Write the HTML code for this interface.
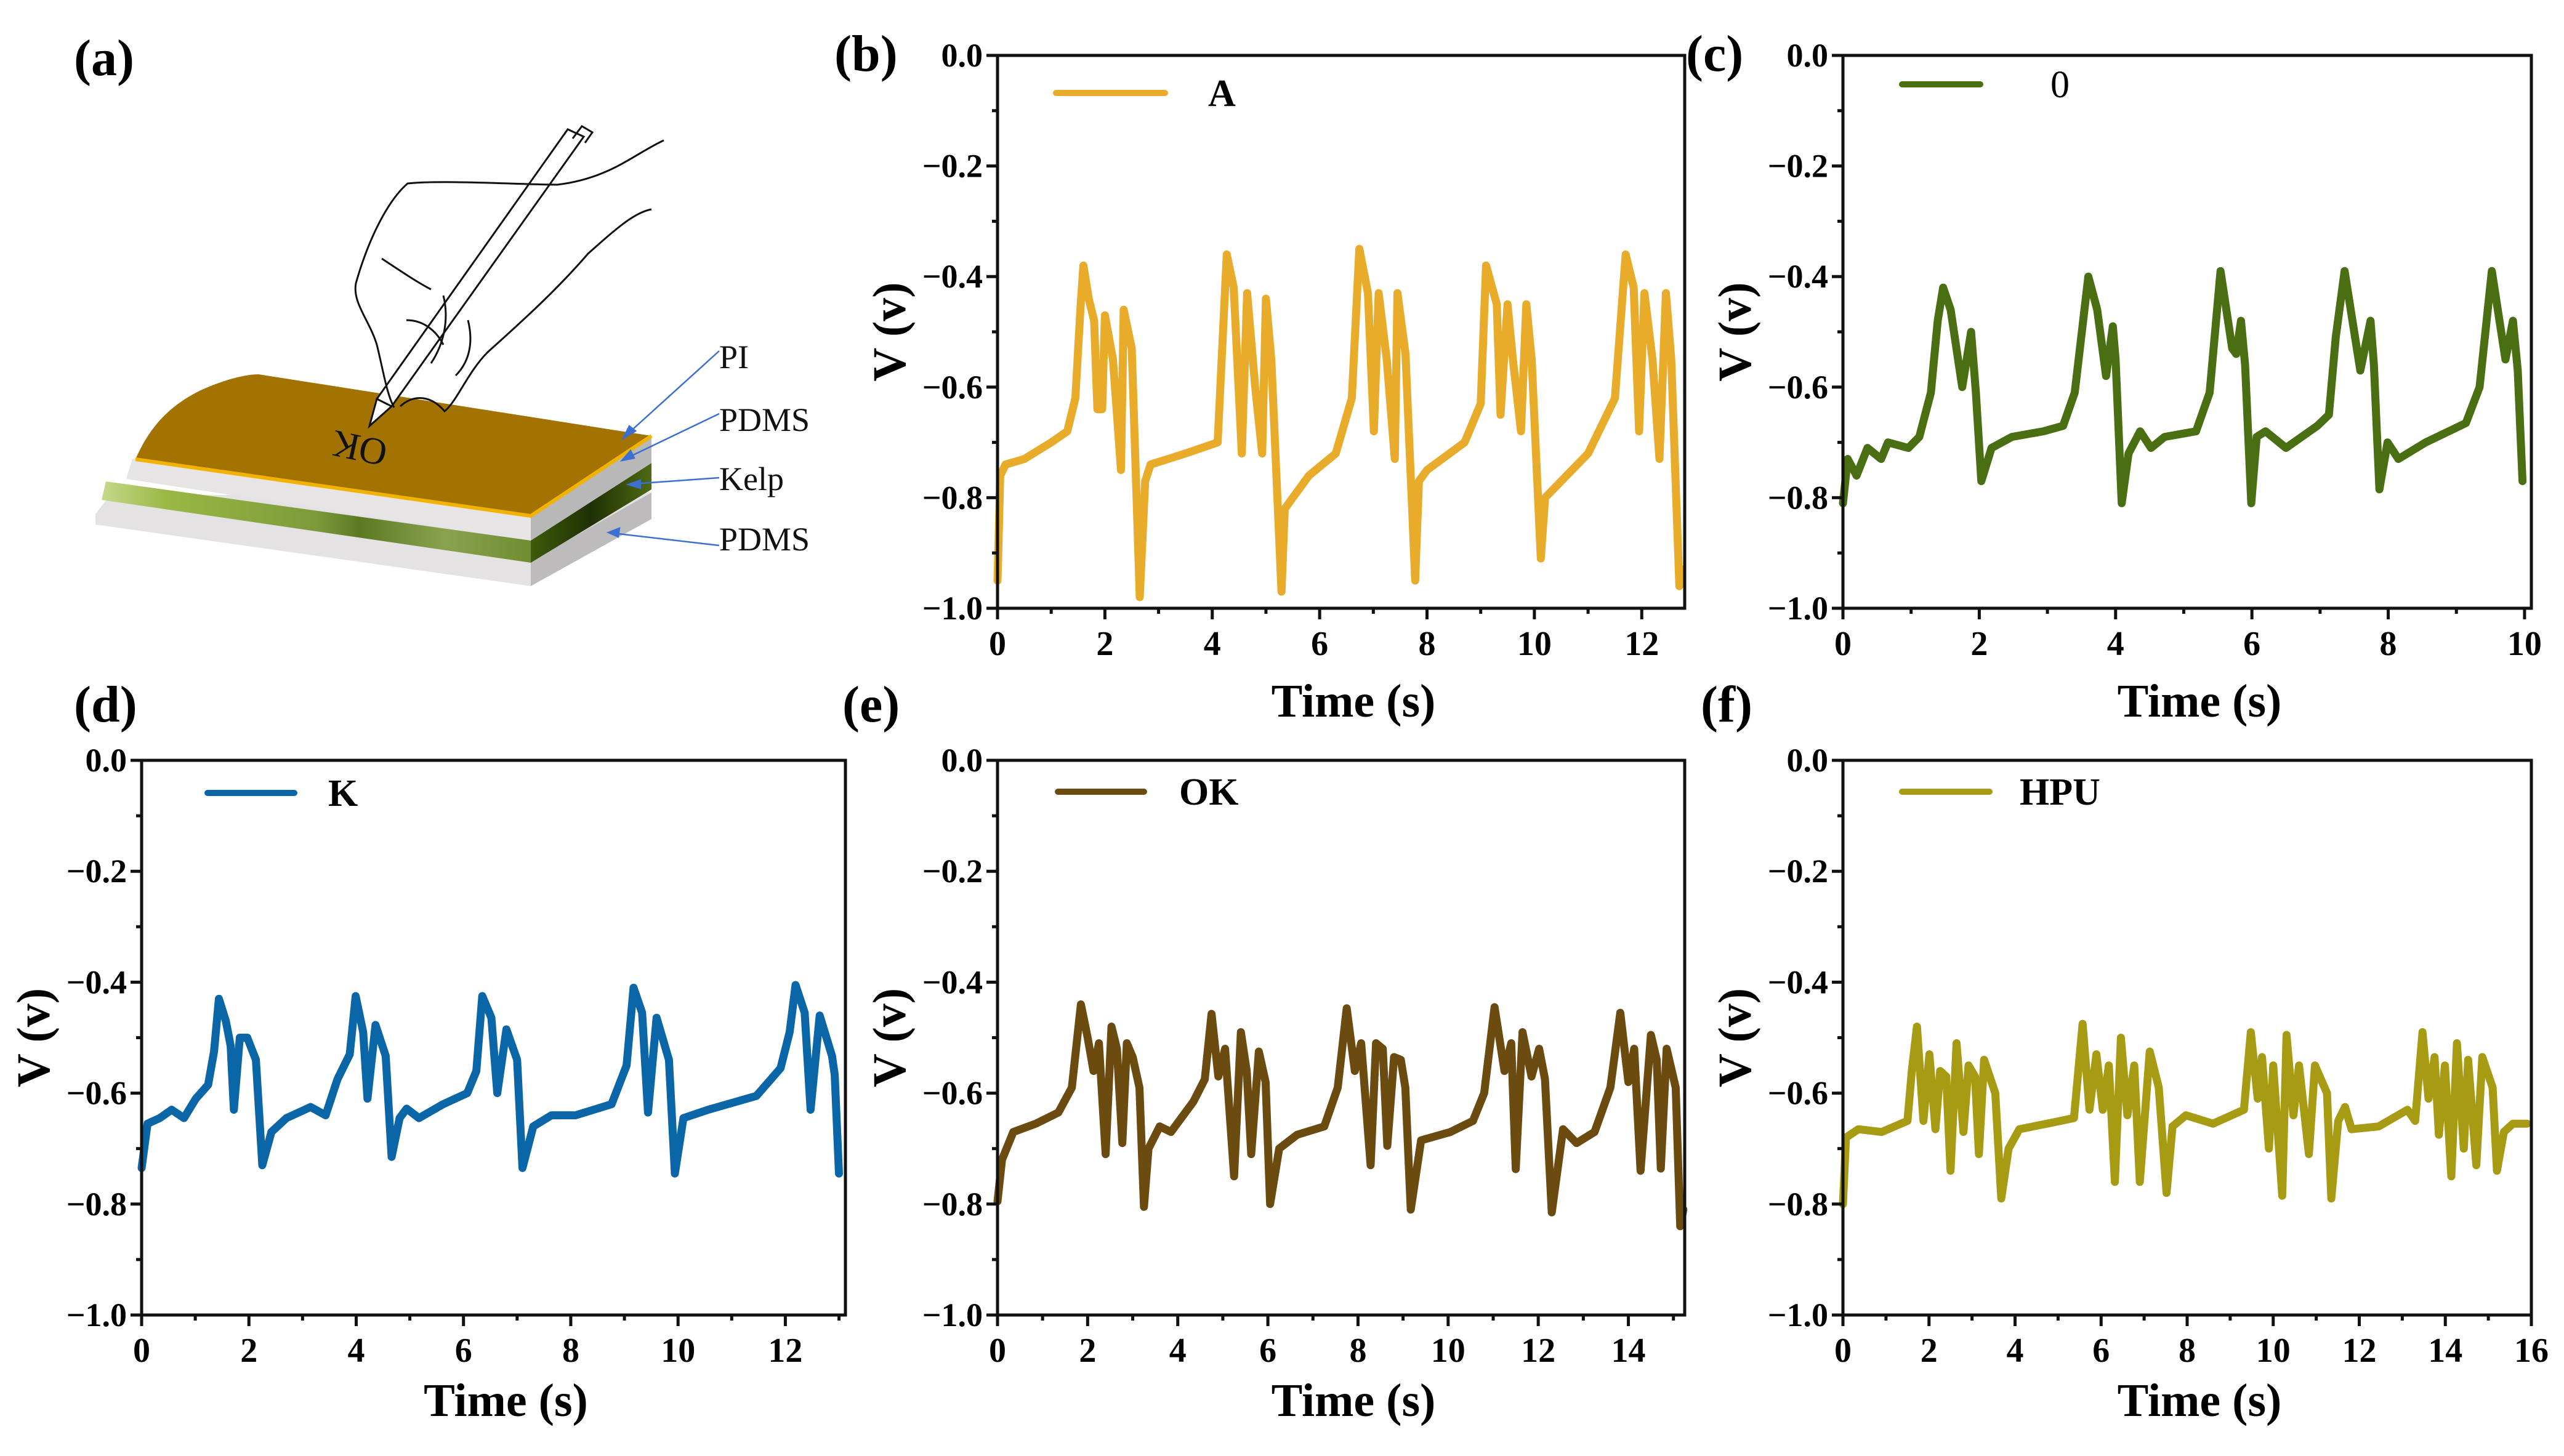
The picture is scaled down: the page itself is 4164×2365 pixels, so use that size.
<!DOCTYPE html>
<html><head><meta charset="utf-8"><style>
html,body{margin:0;padding:0;background:#fff}
svg{display:block}
text{font-family:"Liberation Serif",serif}
</style></head><body>
<svg id="fig" width="4164" height="2365" viewBox="0 0 4164 2365" xmlns="http://www.w3.org/2000/svg">
<rect width="4164" height="2365" fill="#fff"/>
<g id="panel-a">
  <text x="120" y="122" font-size="84" font-weight="bold">(a)</text>
  <defs>
    <linearGradient id="kelpg" x1="0" y1="0" x2="1" y2="0">
      <stop offset="0" stop-color="#c6d98a"/><stop offset="0.15" stop-color="#9ab845"/><stop offset="0.5" stop-color="#7d9a3a"/><stop offset="0.6" stop-color="#5c7a22"/><stop offset="0.8" stop-color="#8aa24f"/><stop offset="1" stop-color="#6f8d30"/>
    </linearGradient>
    <linearGradient id="kside" x1="0" y1="0" x2="1" y2="0">
      <stop offset="0" stop-color="#3e5a0a"/><stop offset="0.5" stop-color="#1f3005"/><stop offset="1" stop-color="#4f6a12"/>
    </linearGradient>
  </defs>
  <polygon points="155,835 178,805 1058,800 1058,843 862,952 155,852" fill="#e4e2e2"/>
  <polygon points="862,912 1058,800 1058,843 862,952" fill="#bdbbbb"/>
  <polygon points="172,782 862,878 862,914 165,812" fill="url(#kelpg)"/>
  <polygon points="862,878 1058,752 1058,795 862,914" fill="url(#kside)"/>
  <polygon points="215,745 862,838 862,878 205,778" fill="#e6e4e4"/>
  <polygon points="862,838 1058,710 1058,752 862,878" fill="#b9b8b8"/>
  <path d="M220,746 C240,700 270,660 330,632 C370,615 400,608 420,608 L1058,708 L862,838 Z" fill="#a27300"/>
  <path d="M220,746 L862,838 L1058,708" fill="none" stroke="#f2b200" stroke-width="6"/>
  <text x="0" y="0" font-family="Liberation Sans" font-size="62" transform="translate(585,722) rotate(192)" text-anchor="middle" dominant-baseline="middle" fill="#111">OK</text>
  <g fill="none" stroke="#111" stroke-width="3">
    <polygon points="922,210 948,222 636,660 612,648" fill="#fff"/>
    <polygon points="612,648 636,660 600,692" fill="#fff"/>
    <path d="M1078,228 C1030,250 990,290 905,300 C850,300 720,292 662,298 C625,330 595,400 578,460 C572,492 600,520 612,560 C622,600 628,640 640,662"/>
    <path d="M650,660 C672,640 700,642 722,668 C742,652 760,604 792,572 C850,520 905,470 955,412 C1000,372 1030,345 1058,340"/>
    <path d="M700,590 C720,560 730,520 720,480 M740,610 C760,590 770,560 760,520 M620,420 C650,440 680,460 700,470 M660,520 C690,520 710,540 720,560"/>
    <path d="M930,225 L945,205 L962,215 L950,232"/>
  </g>
  <g font-size="54" fill="#111">
    <text x="1168" y="598">PI</text>
    <text x="1168" y="700">PDMS</text>
    <text x="1168" y="796">Kelp</text>
    <text x="1168" y="894">PDMS</text>
  </g>
  <g stroke="#3b6fd0" stroke-width="2.5" fill="#3b6fd0">
    <line x1="1168" y1="570" x2="1018" y2="706"/><polygon points="1012,712 1032,700 1022,692"/>
    <line x1="1168" y1="672" x2="1018" y2="744"/><polygon points="1010,748 1030,744 1024,732"/>
    <line x1="1168" y1="776" x2="1028" y2="786"/><polygon points="1020,787 1040,780 1040,793"/>
    <line x1="1168" y1="886" x2="996" y2="866"/><polygon points="988,865 1006,858 1004,872"/>
  </g>
</g>
<g id="charts"></g>
</svg>
<script>
const bT=[0,0.05,0.15,0.5,1.0,1.3,1.45,1.55,1.6,1.7,1.8,1.86,1.95,2.0,2.15,2.3,2.35,2.5,2.65,2.75,2.85,3.5,4.1,4.27,4.4,4.55,4.65,4.8,4.93,5.0,5.1,5.29,5.35,5.5,5.8,6.3,6.6,6.74,6.9,7.01,7.1,7.25,7.4,7.45,7.6,7.78,7.85,8.0,8.7,9.0,9.1,9.3,9.37,9.5,9.6,9.75,9.85,9.95,10.12,10.2,10.5,11.0,11.5,11.7,11.85,11.95,12.05,12.2,12.33,12.45,12.55,12.7,12.75];
const bV=[-0.95,-0.76,-0.74,-0.73,-0.70,-0.68,-0.62,-0.45,-0.38,-0.44,-0.48,-0.64,-0.64,-0.47,-0.55,-0.75,-0.46,-0.53,-0.98,-0.77,-0.74,-0.72,-0.70,-0.36,-0.42,-0.72,-0.43,-0.60,-0.72,-0.44,-0.55,-0.97,-0.82,-0.80,-0.76,-0.72,-0.62,-0.35,-0.43,-0.68,-0.43,-0.55,-0.73,-0.43,-0.54,-0.95,-0.77,-0.75,-0.70,-0.63,-0.38,-0.45,-0.65,-0.45,-0.55,-0.68,-0.45,-0.55,-0.91,-0.80,-0.77,-0.72,-0.62,-0.36,-0.42,-0.68,-0.43,-0.55,-0.73,-0.43,-0.55,-0.96,-0.93];
const cT=[0,0.07,0.2,0.36,0.56,0.66,0.96,1.12,1.29,1.39,1.47,1.58,1.75,1.88,1.95,2.03,2.18,2.48,2.94,3.23,3.4,3.6,3.73,3.86,3.96,4.0,4.09,4.19,4.36,4.52,4.72,5.18,5.38,5.54,5.71,5.77,5.84,5.9,5.99,6.07,6.2,6.5,6.96,7.13,7.23,7.36,7.59,7.74,7.79,7.87,7.99,8.15,8.55,9.14,9.34,9.52,9.72,9.83,9.9,9.97];
const cV=[-0.81,-0.73,-0.76,-0.71,-0.73,-0.70,-0.71,-0.69,-0.61,-0.48,-0.42,-0.46,-0.60,-0.50,-0.61,-0.77,-0.71,-0.69,-0.68,-0.67,-0.61,-0.40,-0.46,-0.58,-0.49,-0.55,-0.81,-0.72,-0.68,-0.71,-0.69,-0.68,-0.61,-0.39,-0.53,-0.54,-0.48,-0.56,-0.81,-0.69,-0.68,-0.71,-0.67,-0.65,-0.51,-0.39,-0.57,-0.48,-0.56,-0.785,-0.70,-0.73,-0.70,-0.665,-0.60,-0.39,-0.55,-0.48,-0.57,-0.77];
const dT=[0,0.11,0.34,0.56,0.79,1.01,1.24,1.35,1.44,1.57,1.66,1.72,1.83,1.97,2.13,2.25,2.42,2.7,3.15,3.43,3.65,3.88,3.99,4.13,4.21,4.36,4.55,4.66,4.81,4.94,5.17,5.62,6.07,6.24,6.35,6.52,6.63,6.8,7.0,7.1,7.3,7.64,8.09,8.76,9.04,9.17,9.33,9.44,9.6,9.83,9.94,10.1,10.56,11.46,11.91,12.08,12.19,12.36,12.47,12.64,12.87,12.92,13.0];
const dV=[-0.735,-0.655,-0.645,-0.63,-0.645,-0.61,-0.585,-0.525,-0.43,-0.47,-0.515,-0.63,-0.50,-0.50,-0.54,-0.73,-0.67,-0.645,-0.625,-0.64,-0.575,-0.53,-0.425,-0.49,-0.61,-0.477,-0.533,-0.715,-0.645,-0.628,-0.645,-0.62,-0.60,-0.56,-0.425,-0.464,-0.60,-0.485,-0.54,-0.735,-0.66,-0.64,-0.64,-0.62,-0.55,-0.41,-0.455,-0.635,-0.464,-0.54,-0.745,-0.645,-0.63,-0.605,-0.555,-0.49,-0.405,-0.455,-0.63,-0.46,-0.533,-0.567,-0.745];
const eT=[0,0.1,0.35,0.85,1.35,1.65,1.85,2.0,2.13,2.25,2.4,2.53,2.65,2.77,2.87,3.0,3.15,3.25,3.35,3.6,3.85,4.35,4.6,4.75,4.9,5.05,5.25,5.4,5.53,5.63,5.8,5.95,6.05,6.25,6.65,7.25,7.55,7.75,7.93,8.07,8.28,8.4,8.55,8.65,8.8,8.95,9.05,9.17,9.4,10.05,10.55,10.8,11.03,11.25,11.4,11.5,11.65,11.85,12.02,12.15,12.3,12.55,12.85,13.25,13.6,13.82,14.0,14.13,14.27,14.5,14.63,14.72,14.85,15.05,15.15,15.22];
const eV=[-0.795,-0.72,-0.67,-0.655,-0.635,-0.59,-0.44,-0.50,-0.56,-0.51,-0.71,-0.48,-0.52,-0.69,-0.51,-0.535,-0.59,-0.805,-0.70,-0.66,-0.67,-0.615,-0.575,-0.457,-0.57,-0.52,-0.75,-0.49,-0.56,-0.71,-0.525,-0.58,-0.80,-0.70,-0.675,-0.66,-0.59,-0.447,-0.56,-0.51,-0.73,-0.51,-0.52,-0.695,-0.535,-0.54,-0.59,-0.81,-0.685,-0.67,-0.65,-0.60,-0.445,-0.56,-0.51,-0.737,-0.49,-0.57,-0.52,-0.575,-0.815,-0.665,-0.69,-0.67,-0.59,-0.455,-0.58,-0.52,-0.74,-0.495,-0.54,-0.736,-0.52,-0.59,-0.84,-0.81];
const fT=[0,0.07,0.36,0.9,1.5,1.6,1.72,1.87,2.01,2.15,2.26,2.4,2.5,2.64,2.8,2.92,3.07,3.16,3.28,3.54,3.68,3.85,4.1,4.74,5.37,5.57,5.73,5.89,6.04,6.18,6.32,6.46,6.61,6.77,6.9,7.13,7.34,7.52,7.66,7.97,8.6,9.32,9.48,9.64,9.74,9.9,10.0,10.21,10.31,10.47,10.6,10.83,10.97,11.25,11.35,11.51,11.67,11.82,12.45,13.12,13.3,13.47,13.61,13.75,13.85,13.99,14.14,14.27,14.43,14.53,14.72,14.86,15.1,15.2,15.36,15.57,15.9];
const fV=[-0.80,-0.68,-0.665,-0.67,-0.65,-0.56,-0.48,-0.65,-0.53,-0.665,-0.56,-0.57,-0.74,-0.51,-0.67,-0.55,-0.57,-0.71,-0.54,-0.60,-0.79,-0.70,-0.665,-0.655,-0.645,-0.475,-0.63,-0.53,-0.63,-0.55,-0.76,-0.50,-0.64,-0.55,-0.76,-0.525,-0.59,-0.78,-0.66,-0.64,-0.655,-0.63,-0.49,-0.61,-0.535,-0.70,-0.55,-0.785,-0.495,-0.64,-0.55,-0.71,-0.55,-0.60,-0.79,-0.65,-0.625,-0.665,-0.66,-0.63,-0.65,-0.49,-0.61,-0.535,-0.675,-0.55,-0.75,-0.51,-0.70,-0.54,-0.73,-0.535,-0.59,-0.74,-0.67,-0.655,-0.655];
const yTicks=[0,-0.2,-0.4,-0.6,-0.8,-1.0];
const yTickLabels=["0.0","\u22120.2","\u22120.4","\u22120.6","\u22120.8","\u22121.0"];

const NS="http://www.w3.org/2000/svg";
const root=document.getElementById('charts');
function mk(tag,attrs,parent){const e=document.createElementNS(NS,tag);for(const k in attrs)e.setAttribute(k,attrs[k]);(parent||root).appendChild(e);return e;}

const panels=[
 {id:'b',L:1620,R:2736,T:90,B:988,xmax:12.8,xMajor:[0,2,4,6,8,10,12],xMinorMax:12,t:bT,v:bV,color:'#e8ab2a',leg:'A',legBold:true,lx1:1715,lx2:1892,ly:151,tx:1962,titleOff:150,labX:1355,labY:115},
 {id:'c',L:2993,R:4111,T:90,B:988,xmax:10.1,xMajor:[0,2,4,6,8,10],xMinorMax:10,t:cT,v:cV,color:'#4a6e12',leg:'0',legBold:false,lx1:3089,lx2:3216,ly:137,tx:3330,titleOff:150,labX:2738,labY:115},
 {id:'d',L:230,R:1373,T:1235,B:2136,xmax:13.12,xMajor:[0,2,4,6,8,10,12],xMinorMax:13,t:dT,v:dV,color:'#0b66a8',leg:'K',legBold:true,lx1:337,lx2:478,ly:1288,tx:533,titleOff:138,labX:120,labY:1172},
 {id:'e',L:1620,R:2736,T:1235,B:2136,xmax:15.25,xMajor:[0,2,4,6,8,10,12,14],xMinorMax:15,t:eT,v:eV,color:'#6b4b10',leg:'OK',legBold:true,lx1:1718,lx2:1858,ly:1286,tx:1915,titleOff:138,labX:1368,labY:1172},
 {id:'f',L:2993,R:4111,T:1235,B:2136,xmax:16,xMajor:[0,2,4,6,8,10,12,14,16],xMinorMax:16,t:fT,v:fV,color:'#a89b14',leg:'HPU',legBold:true,lx1:3089,lx2:3231,ly:1286,tx:3280,titleOff:138,labX:2762,labY:1172}
];

panels.forEach(p=>{
  const g=mk('g',{});
  
  
  const X=t=>p.L+(p.R-p.L)*t/p.xmax;
  const Y=v=>p.T+(p.B-p.T)*(-v)/1.0;
  const lab=mk('text',{x:p.labX,y:p.labY,'font-size':84,'font-weight':'bold'},g);
  lab.textContent='('+p.id+')';
  
  
  const pts=p.t.map((t,i)=>X(t).toFixed(1)+','+Y(p.v[i]).toFixed(1)).join(' ');
  const line=mk('polyline',{points:pts,fill:'none',stroke:p.color,'stroke-width':13,'stroke-linejoin':'round','stroke-linecap':'round'},g);
  
  
  const fr=mk('rect',{x:p.L,y:p.T,width:p.R-p.L,height:p.B-p.T,fill:'none',stroke:'#111','stroke-width':5},g);
  
  
  for(let k=0;k<=10;k++){
    const v=-k/10,y=Y(v),major=(k%2===0);
    mk('line',{x1:p.L,x2:p.L-(major?18:9),y1:y,y2:y,stroke:'#111','stroke-width':5},g);
  }
  yTicks.forEach((v,i)=>{
    const t=mk('text',{x:p.L-24,y:Y(v)+18,'font-size':54,'font-weight':'bold','text-anchor':'end'},g);
    t.textContent=yTickLabels[i];
    
    
  });
  for(let k=0;k<=p.xMinorMax;k++){
    const x=X(k),major=(k%2===0);
    mk('line',{x1:x,x2:x,y1:p.B,y2:p.B+(major?18:9),stroke:'#111','stroke-width':5},g);
  }
  p.xMajor.forEach(v=>{
    const t=mk('text',{x:X(v),y:p.B+76,'font-size':56,'font-weight':'bold','text-anchor':'middle'},g);
    t.textContent=String(v);
    
    
  });
  const xt=mk('text',{x:(p.L+p.R)/2+20,y:p.B+p.titleOff+26,'font-size':76,'font-weight':'bold','text-anchor':'middle'},g);
  xt.textContent='Time (s)';
  
  
  const cy=(p.T+p.B)/2;
  const yt=mk('text',{x:0,y:0,'font-size':76,'font-weight':'bold','text-anchor':'middle',transform:'translate('+(p.L-150)+','+cy+') rotate(-90)'},g);
  yt.textContent='V (v)';
  
  
  const ll=mk('line',{x1:p.lx1,x2:p.lx2,y1:p.ly,y2:p.ly,stroke:p.color,'stroke-width':10,'stroke-linecap':'round'},g);
  
  
  const lt=mk('text',{x:p.tx,y:p.ly+21,'font-size':62,'font-weight':p.legBold?'bold':'normal'},g);
  lt.textContent=p.leg;
  
  
});
</script>
</body></html>
